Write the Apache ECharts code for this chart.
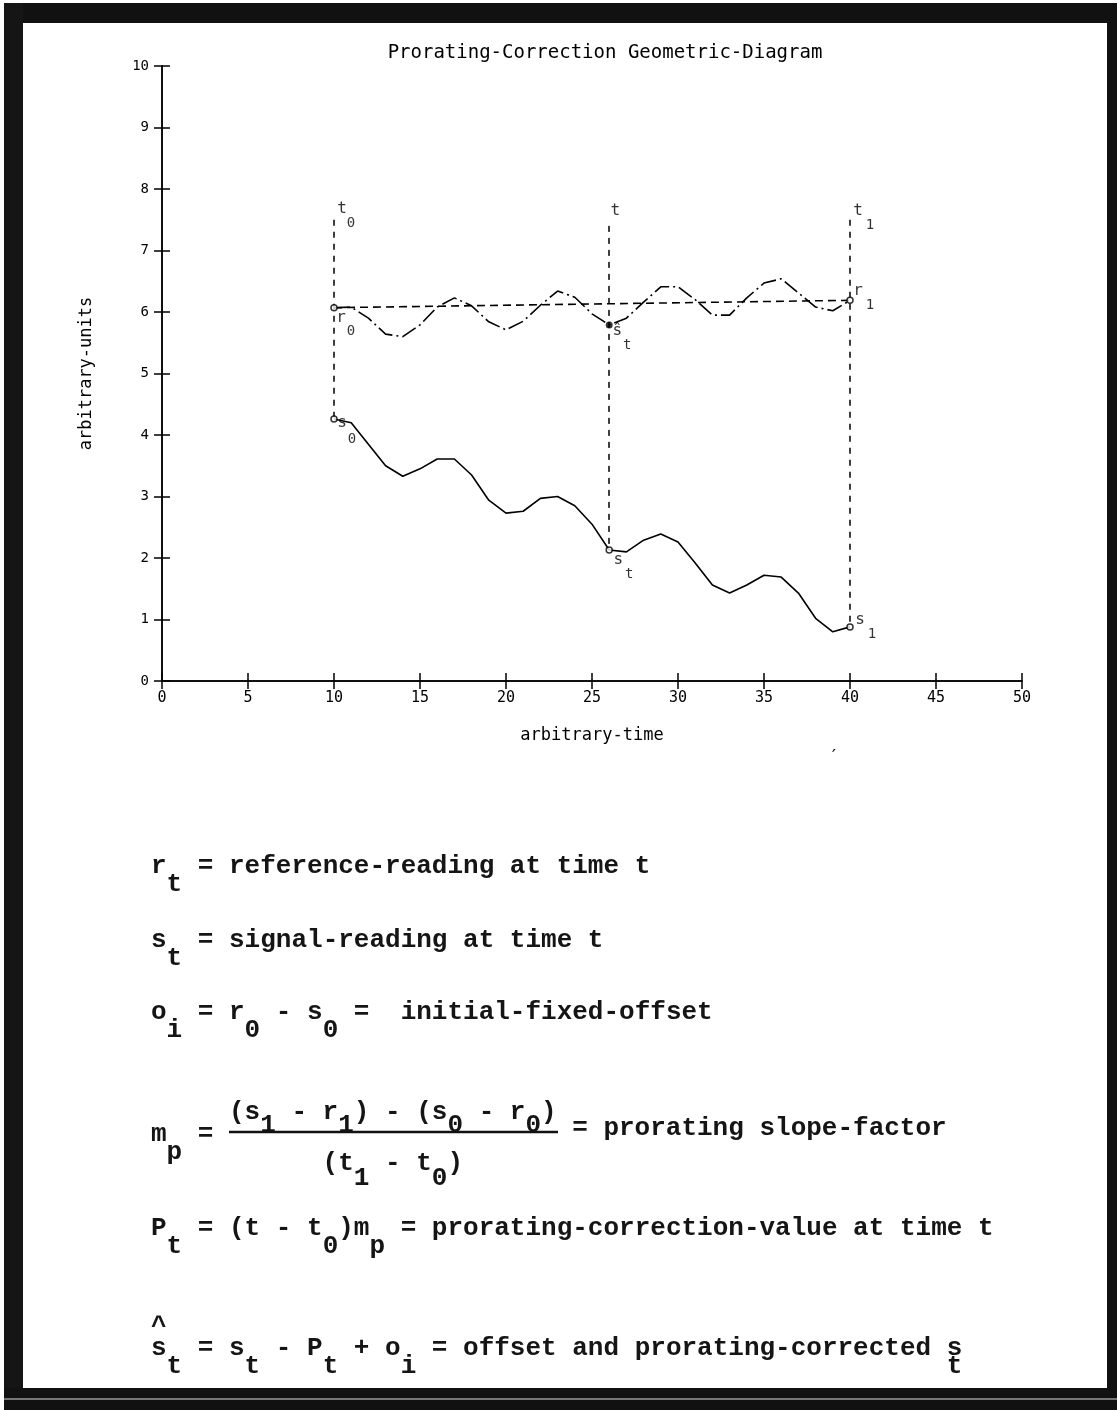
<!DOCTYPE html>
<html><head><meta charset="utf-8">
<script src="https://cdn.jsdelivr.net/npm/echarts@6/dist/echarts.min.js"></script>
<style>html,body{margin:0;padding:0;background:#fff}#c{width:1117px;height:1410px}</style>
</head><body><div id="c"></div>
<script>
// ---- data ----
const times = [10,11,12,13,14,15,16,17,18,19,20,21,22,23,24,25,26,27,28,29,30,31,32,33,34,35,36,37,38,39,40];
const signal = [4.26,4.2,3.85,3.5,3.33,3.45,3.61,3.61,3.35,2.94,2.73,2.76,2.97,3.0,2.85,2.55,2.13,2.1,2.29,2.39,2.26,1.92,1.56,1.43,1.56,1.72,1.69,1.43,1.02,0.8,0.88];
const reference = [6.07,6.08,5.9,5.64,5.6,5.79,6.08,6.23,6.1,5.84,5.71,5.85,6.11,6.34,6.24,5.97,5.79,5.9,6.16,6.41,6.41,6.2,5.95,5.95,6.23,6.47,6.54,6.31,6.08,6.02,6.19];
const guideX = [10, 26, 40];
const guideTop = [7.5, 7.4, 7.5];
const xTickValues = [0,5,10,15,20,25,30,35,40,45,50];
const yTickValues = [0,1,2,3,4,5,6,7,8,9,10];
const titleText = 'Prorating-Correction Geometric-Diagram';
const xName = 'arbitrary-time';
const yName = 'arbitrary-units';

// ---- derived ----
const sigData = times.map((t,i)=>[t, signal[i]]);
const refData = times.map((t,i)=>[t, reference[i]]);
const idx = x => times.indexOf(x);
const guides = guideX.map((x,k)=>[[x, guideTop[k]], [x, signal[idx(x)]]]);
const baseLine = [[times[0], reference[0]], [times[times.length-1], reference[reference.length-1]]];
const openPts = [[10, reference[idx(10)]],[10, signal[idx(10)]],[26, signal[idx(26)]],[40, reference[idx(40)]],[40, signal[idx(40)]]];
const filledPts = [[26, reference[idx(26)]]];

// label text attached to chart points (style offsets only)
const pointLabels = [
  {at:[10, guideTop[0]], text:'t', off:[8,-11]},
  {at:[10, guideTop[0]], text:'0', off:[17,4], sub:true},
  {at:[26, guideTop[1]], text:'t', off:[6,-15]},
  {at:[40, guideTop[2]], text:'t', off:[8,-9]},
  {at:[40, guideTop[2]], text:'1', off:[20,6], sub:true},
  {at:[10, reference[idx(10)]], text:'r', off:[7,10]},
  {at:[10, reference[idx(10)]], text:'0', off:[17,24], sub:true},
  {at:[26, reference[idx(26)]], text:'ŝ', off:[8,6]},
  {at:[26, reference[idx(26)]], text:'t', off:[18,20], sub:true},
  {at:[40, reference[idx(40)]], text:'r', off:[8,-9]},
  {at:[40, reference[idx(40)]], text:'1', off:[20,5], sub:true},
  {at:[10, signal[idx(10)]], text:'s', off:[8,4]},
  {at:[10, signal[idx(10)]], text:'0', off:[18,20], sub:true},
  {at:[26, signal[idx(26)]], text:'s', off:[9,10]},
  {at:[26, signal[idx(26)]], text:'t', off:[20,24], sub:true},
  {at:[40, signal[idx(40)]], text:'s', off:[10,-7]},
  {at:[40, signal[idx(40)]], text:'1', off:[22,7], sub:true}
];

const plotFont = '"DejaVu Sans Mono", monospace';
const eqFont = '"Liberation Mono", "Courier New", monospace';

const chart = echarts.init(document.getElementById('c'), null, {renderer:'canvas'});

const axisCommon = {
  type:'value', min:0, max:50, interval:5,
  axisLine:{show:true, lineStyle:{color:'#000', width:1.5}},
  axisTick:{show:true, inside:true, length:8, lineStyle:{color:'#000', width:1.5}},
  splitLine:{show:false}
};

// equations: main line + subscript line per row (typewriter cells)
const eqCell = 15.6;
const eqRows = [
  {x:151, y:866, main:'r  = reference-reading at time t', sub:' t'},
  {x:151, y:940, main:'s  = signal-reading at time t', sub:' t'},
  {x:151, y:1012, main:'o  = r  - s  =  initial-fixed-offset', sub:' i    0    0'},
  {x:151, y:1134, main:'m  =', sub:' p'},
  {x:229, y:1112, main:'(s  - r ) - (s  - r )', sub:'  1    1      0    0', subDy:13},
  {x:229+6*eqCell, y:1163, main:'(t  - t )', sub:'  1    0', subDy:15},
  {x:229+22*eqCell, y:1128, main:'= prorating slope-factor', sub:''},
  {x:151, y:1228, main:'P  = (t - t )m  = prorating-correction-value at time t', sub:' t         0  p'},
  {x:151, y:1348, main:'s  = s  - P  + o  = offset and prorating-corrected s', sub:' t    t    t    i                                  t'},
  {x:151, y:1327, main:'^', sub:''}
];
const eqGraphics = [];
eqRows.forEach(r=>{
  eqGraphics.push({type:'text', style:{text:r.main, x:r.x, y:r.y, font:'bold 26px '+eqFont, fill:'#151515', textAlign:'left', textVerticalAlign:'middle'}});
  if (r.sub) eqGraphics.push({type:'text', style:{text:r.sub, x:r.x, y:r.y+(r.subDy||18), font:'bold 26px '+eqFont, fill:'#151515', textAlign:'left', textVerticalAlign:'middle'}});
});
eqGraphics.push({type:'line', shape:{x1:229, y1:1132, x2:558, y2:1132}, style:{stroke:'#111', lineWidth:2.5}});

// scanned page frame
const frame = [
  {type:'rect', shape:{x:4, y:3, width:1113, height:20}, style:{fill:'#111'}},
  {type:'rect', shape:{x:4, y:3, width:19, height:1407}, style:{fill:'#151515'}},
  {type:'rect', shape:{x:1107, y:3, width:10, height:1407}, style:{fill:'#111'}},
  {type:'rect', shape:{x:4, y:1388, width:1113, height:22}, style:{fill:'#111'}},
  {type:'rect', shape:{x:4, y:1398, width:1113, height:2}, style:{fill:'#777'}},
  {type:'text', style:{text:'′', x:834, y:757, font:'18px '+plotFont, fill:'#000', textAlign:'center', textVerticalAlign:'middle'}}
];

chart.setOption({
  backgroundColor:'#fff',
  animation:false,
  title:{text:titleText, left:600, top:39, textAlign:'center',
    textStyle:{fontFamily:plotFont, fontSize:19, fontWeight:'normal', color:'#000'}},
  grid:{left:162, right:95, top:66, bottom:729},
  xAxis:[
    Object.assign({}, axisCommon, {position:'bottom', name:xName, nameLocation:'middle', nameGap:46,
      nameTextStyle:{fontFamily:plotFont, fontSize:17, color:'#000'},
      axisLabel:{show:true, margin:10, fontFamily:plotFont, fontSize:15, color:'#000',
        customValues: xTickValues}}),
    Object.assign({}, axisCommon, {position:'top', axisLabel:{show:false}})
  ],
  yAxis:[
    Object.assign({}, axisCommon, {min:0, max:10, interval:1, position:'left', name:yName, nameLocation:'middle', nameGap:67,
      nameTextStyle:{fontFamily:plotFont, fontSize:17, color:'#000'},
      axisLabel:{show:true, margin:13, fontFamily:plotFont, fontSize:14, color:'#000', customValues: yTickValues}}),
    Object.assign({}, axisCommon, {min:0, max:10, interval:1, position:'right', axisLabel:{show:false}})
  ],
  series:[
    {name:'guides', type:'lines', coordinateSystem:'cartesian2d', silent:true,
      data: guides.map(c=>({coords:c})),
      lineStyle:{color:'#000', width:1.5, type:[6,6], opacity:1}, z:2},
    {name:'baseline', type:'line', data: baseLine, symbol:'none', silent:true,
      lineStyle:{color:'#000', width:1.6, type:[8,5]}, z:2},
    {name:'reference', type:'line', data: refData, symbol:'none', smooth:false, silent:true,
      lineStyle:{color:'#000', width:1.6, type:[16,4,2,4]}, z:3},
    {name:'signal', type:'line', data: sigData, symbol:'none', smooth:false, silent:true,
      lineStyle:{color:'#000', width:1.6}, z:3},
    {name:'open', type:'scatter', data: openPts, symbol:'circle', symbolSize:6, silent:true,
      itemStyle:{color:'#fff', borderColor:'#000', borderWidth:1.5}, z:5},
    {name:'filled', type:'scatter', data: filledPts, symbol:'circle', symbolSize:7, silent:true,
      itemStyle:{color:'#000'}, z:5},
    {name:'labels', type:'scatter', symbolSize:0, silent:true, z:6,
      data: pointLabels.map(p=>({value:p.at, label:{show:true, formatter:p.text, offset:p.off,
        position:'inside', fontFamily:plotFont, fontSize:p.sub?14:16, color:'#000'}}))}
  ],
  graphic: frame.concat(eqGraphics)
});
</script></body></html>
